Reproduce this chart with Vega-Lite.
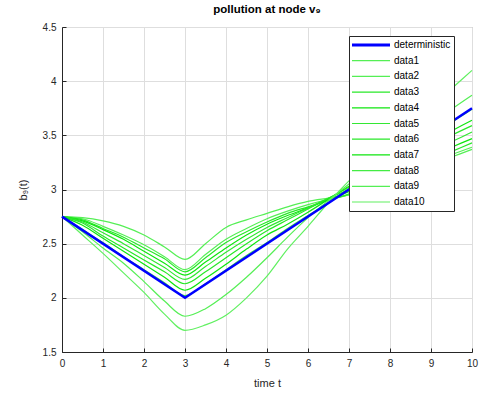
{
"$schema": "https://vega.github.io/schema/vega-lite/v6.json",
"width": 410, "height": 325,
"autosize": {"type": "none"},
"padding": {"left": 62, "top": 27, "right": 11, "bottom": 44},
"background": "white",
"config": {
  "font": "Liberation Sans",
  "view": {"stroke": "#a6a6a6", "strokeWidth": 1},
  "axis": {"domainColor": "#262626", "tickColor": "#262626", "labelColor": "#262626", "titleColor": "#262626", "labelFontSize": 10, "titleFontSize": 11, "titleFontWeight": "normal", "gridColor": "#dedede", "tickSize": -4, "grid": true, "labelFlush": false, "labelOverlap": false}
},
"title": {"text": "pollution at node v₉", "fontSize": 11.5, "fontWeight": "bold", "color": "#000000", "offset": 7, "anchor": "middle"},
"datasets": {
 "det": [{"s":"deterministic","t":0,"v":2.75},{"s":"deterministic","t":3,"v":2.0},{"s":"deterministic","t":10,"v":3.75}],
 "sims": [
{"s":"data1","t":0,"v":2.75},{"s":"data1","t":0.5,"v":2.74},{"s":"data1","t":1,"v":2.71},{"s":"data1","t":1.5,"v":2.66},{"s":"data1","t":2,"v":2.58},{"s":"data1","t":2.5,"v":2.47},{"s":"data1","t":3,"v":2.355},{"s":"data1","t":3.5,"v":2.5},{"s":"data1","t":4,"v":2.65},{"s":"data1","t":4.5,"v":2.72},{"s":"data1","t":5,"v":2.78},{"s":"data1","t":5.5,"v":2.84},{"s":"data1","t":6,"v":2.89},{"s":"data1","t":6.5,"v":2.92},{"s":"data1","t":7,"v":2.95},{"s":"data1","t":7.5,"v":3.02},{"s":"data1","t":8,"v":3.09},{"s":"data1","t":8.5,"v":3.16},{"s":"data1","t":9,"v":3.23},{"s":"data1","t":9.5,"v":3.3},{"s":"data1","t":10,"v":3.37},
{"s":"data2","t":0,"v":2.75},{"s":"data2","t":0.5,"v":2.73},{"s":"data2","t":1,"v":2.66},{"s":"data2","t":1.5,"v":2.58},{"s":"data2","t":2,"v":2.49},{"s":"data2","t":2.5,"v":2.38},{"s":"data2","t":3,"v":2.26},{"s":"data2","t":3.5,"v":2.4},{"s":"data2","t":4,"v":2.54},{"s":"data2","t":4.5,"v":2.64},{"s":"data2","t":5,"v":2.73},{"s":"data2","t":5.5,"v":2.8},{"s":"data2","t":6,"v":2.86},{"s":"data2","t":6.5,"v":2.91},{"s":"data2","t":7,"v":2.95},{"s":"data2","t":7.5,"v":3.02},{"s":"data2","t":8,"v":3.09},{"s":"data2","t":8.5,"v":3.17},{"s":"data2","t":9,"v":3.24},{"s":"data2","t":9.5,"v":3.32},{"s":"data2","t":10,"v":3.39},
{"s":"data3","t":0,"v":2.75},{"s":"data3","t":0.5,"v":2.72},{"s":"data3","t":1,"v":2.64},{"s":"data3","t":1.5,"v":2.56},{"s":"data3","t":2,"v":2.46},{"s":"data3","t":2.5,"v":2.36},{"s":"data3","t":3,"v":2.24},{"s":"data3","t":3.5,"v":2.37},{"s":"data3","t":4,"v":2.51},{"s":"data3","t":4.5,"v":2.61},{"s":"data3","t":5,"v":2.7},{"s":"data3","t":5.5,"v":2.78},{"s":"data3","t":6,"v":2.84},{"s":"data3","t":6.5,"v":2.9},{"s":"data3","t":7,"v":2.96},{"s":"data3","t":7.5,"v":3.04},{"s":"data3","t":8,"v":3.11},{"s":"data3","t":8.5,"v":3.19},{"s":"data3","t":9,"v":3.27},{"s":"data3","t":9.5,"v":3.35},{"s":"data3","t":10,"v":3.43},
{"s":"data4","t":0,"v":2.75},{"s":"data4","t":0.5,"v":2.71},{"s":"data4","t":1,"v":2.63},{"s":"data4","t":1.5,"v":2.54},{"s":"data4","t":2,"v":2.43},{"s":"data4","t":2.5,"v":2.32},{"s":"data4","t":3,"v":2.21},{"s":"data4","t":3.5,"v":2.33},{"s":"data4","t":4,"v":2.46},{"s":"data4","t":4.5,"v":2.58},{"s":"data4","t":5,"v":2.68},{"s":"data4","t":5.5,"v":2.76},{"s":"data4","t":6,"v":2.83},{"s":"data4","t":6.5,"v":2.91},{"s":"data4","t":7,"v":2.98},{"s":"data4","t":7.5,"v":3.06},{"s":"data4","t":8,"v":3.14},{"s":"data4","t":8.5,"v":3.23},{"s":"data4","t":9,"v":3.31},{"s":"data4","t":9.5,"v":3.39},{"s":"data4","t":10,"v":3.47},
{"s":"data5","t":0,"v":2.75},{"s":"data5","t":0.5,"v":2.7},{"s":"data5","t":1,"v":2.6},{"s":"data5","t":1.5,"v":2.5},{"s":"data5","t":2,"v":2.39},{"s":"data5","t":2.5,"v":2.28},{"s":"data5","t":3,"v":2.17},{"s":"data5","t":3.5,"v":2.29},{"s":"data5","t":4,"v":2.42},{"s":"data5","t":4.5,"v":2.54},{"s":"data5","t":5,"v":2.65},{"s":"data5","t":5.5,"v":2.74},{"s":"data5","t":6,"v":2.83},{"s":"data5","t":6.5,"v":2.92},{"s":"data5","t":7,"v":3.0},{"s":"data5","t":7.5,"v":3.09},{"s":"data5","t":8,"v":3.18},{"s":"data5","t":8.5,"v":3.27},{"s":"data5","t":9,"v":3.35},{"s":"data5","t":9.5,"v":3.44},{"s":"data5","t":10,"v":3.53},
{"s":"data6","t":0,"v":2.75},{"s":"data6","t":0.5,"v":2.69},{"s":"data6","t":1,"v":2.57},{"s":"data6","t":1.5,"v":2.46},{"s":"data6","t":2,"v":2.35},{"s":"data6","t":2.5,"v":2.24},{"s":"data6","t":3,"v":2.13},{"s":"data6","t":3.5,"v":2.24},{"s":"data6","t":4,"v":2.37},{"s":"data6","t":4.5,"v":2.5},{"s":"data6","t":5,"v":2.62},{"s":"data6","t":5.5,"v":2.72},{"s":"data6","t":6,"v":2.82},{"s":"data6","t":6.5,"v":2.92},{"s":"data6","t":7,"v":3.02},{"s":"data6","t":7.5,"v":3.12},{"s":"data6","t":8,"v":3.21},{"s":"data6","t":8.5,"v":3.31},{"s":"data6","t":9,"v":3.4},{"s":"data6","t":9.5,"v":3.5},{"s":"data6","t":10,"v":3.59},
{"s":"data7","t":0,"v":2.75},{"s":"data7","t":0.5,"v":2.67},{"s":"data7","t":1,"v":2.55},{"s":"data7","t":1.5,"v":2.43},{"s":"data7","t":2,"v":2.31},{"s":"data7","t":2.5,"v":2.19},{"s":"data7","t":3,"v":2.07},{"s":"data7","t":3.5,"v":2.18},{"s":"data7","t":4,"v":2.31},{"s":"data7","t":4.5,"v":2.45},{"s":"data7","t":5,"v":2.58},{"s":"data7","t":5.5,"v":2.68},{"s":"data7","t":6,"v":2.79},{"s":"data7","t":6.5,"v":2.91},{"s":"data7","t":7,"v":3.03},{"s":"data7","t":7.5,"v":3.13},{"s":"data7","t":8,"v":3.24},{"s":"data7","t":8.5,"v":3.34},{"s":"data7","t":9,"v":3.44},{"s":"data7","t":9.5,"v":3.54},{"s":"data7","t":10,"v":3.64},
{"s":"data8","t":0,"v":2.75},{"s":"data8","t":0.5,"v":2.63},{"s":"data8","t":1,"v":2.51},{"s":"data8","t":1.5,"v":2.38},{"s":"data8","t":2,"v":2.26},{"s":"data8","t":2.5,"v":2.14},{"s":"data8","t":3,"v":2.02},{"s":"data8","t":3.5,"v":2.13},{"s":"data8","t":4,"v":2.26},{"s":"data8","t":4.5,"v":2.39},{"s":"data8","t":5,"v":2.51},{"s":"data8","t":5.5,"v":2.64},{"s":"data8","t":6,"v":2.76},{"s":"data8","t":6.5,"v":2.88},{"s":"data8","t":7,"v":3.01},{"s":"data8","t":7.5,"v":3.13},{"s":"data8","t":8,"v":3.25},{"s":"data8","t":8.5,"v":3.37},{"s":"data8","t":9,"v":3.5},{"s":"data8","t":9.5,"v":3.62},{"s":"data8","t":10,"v":3.74},
{"s":"data9","t":0,"v":2.75},{"s":"data9","t":0.5,"v":2.61},{"s":"data9","t":1,"v":2.46},{"s":"data9","t":1.5,"v":2.32},{"s":"data9","t":2,"v":2.15},{"s":"data9","t":2.5,"v":1.97},{"s":"data9","t":3,"v":1.83},{"s":"data9","t":3.5,"v":1.9},{"s":"data9","t":4,"v":2.03},{"s":"data9","t":4.5,"v":2.19},{"s":"data9","t":5,"v":2.37},{"s":"data9","t":5.5,"v":2.56},{"s":"data9","t":6,"v":2.74},{"s":"data9","t":6.5,"v":2.9},{"s":"data9","t":7,"v":3.05},{"s":"data9","t":7.5,"v":3.19},{"s":"data9","t":8,"v":3.33},{"s":"data9","t":8.5,"v":3.47},{"s":"data9","t":9,"v":3.6},{"s":"data9","t":9.5,"v":3.74},{"s":"data9","t":10,"v":3.87},
{"s":"data10","t":0,"v":2.75},{"s":"data10","t":0.5,"v":2.58},{"s":"data10","t":1,"v":2.41},{"s":"data10","t":1.5,"v":2.23},{"s":"data10","t":2,"v":2.05},{"s":"data10","t":2.5,"v":1.85},{"s":"data10","t":3,"v":1.7},{"s":"data10","t":3.5,"v":1.75},{"s":"data10","t":4,"v":1.84},{"s":"data10","t":4.5,"v":2.0},{"s":"data10","t":5,"v":2.2},{"s":"data10","t":5.5,"v":2.45},{"s":"data10","t":6,"v":2.66},{"s":"data10","t":6.5,"v":2.88},{"s":"data10","t":7,"v":3.08},{"s":"data10","t":7.5,"v":3.25},{"s":"data10","t":8,"v":3.42},{"s":"data10","t":8.5,"v":3.59},{"s":"data10","t":9,"v":3.76},{"s":"data10","t":9.5,"v":3.93},{"s":"data10","t":10,"v":4.1}
 ]
},
"encoding": {
  "x": {"field": "t", "type": "quantitative", "scale": {"domain": [0, 10], "nice": false}, "axis": {"values": [0,1,2,3,4,5,6,7,8,9,10], "title": "time t", "labelPadding": 10, "titlePadding": 9}},
  "y": {"field": "v", "type": "quantitative", "scale": {"domain": [1.5, 4.5], "nice": false, "zero": false}, "axis": {"values": [1.5,2,2.5,3,3.5,4,4.5], "format": ".1~f", "title": "b₉(t)", "labelPadding": 10, "titlePadding": 14}},
  "color": {"field": "s", "type": "nominal",
    "scale": {"domain": ["deterministic","data1","data2","data3","data4","data5","data6","data7","data8","data9","data10"],
              "range": ["#0000ff","#55ef55","#55ef55","#28e828","#0fe60f","#33e833","#28e828","#0fe60f","#44ec44","#55ef55","#60f060"]},
    "legend": {"title": null, "orient": "none", "legendX": 287, "legendY": 9, "zindex": 5, "symbolType": "stroke", "symbolSize": 1444, "clipHeight": 12, "labelFontSize": 10, "labelColor": "#000000", "fillColor": "white", "strokeColor": "#262626", "padding": 3, "rowPadding": 3.7, "symbolOffset": 14, "labelOffset": 18,
      "encode": {"symbols": {"update": {"strokeWidth": {"signal": "datum.value === 'deterministic' ? 3 : 1.2"}}}}}}
},
"layer": [
  {"data": {"name": "sims"}, "mark": {"type": "line", "interpolate": "monotone", "strokeWidth": 1.2}},
  {"data": {"name": "det"}, "mark": {"type": "line", "strokeWidth": 2.5}}
]
}
